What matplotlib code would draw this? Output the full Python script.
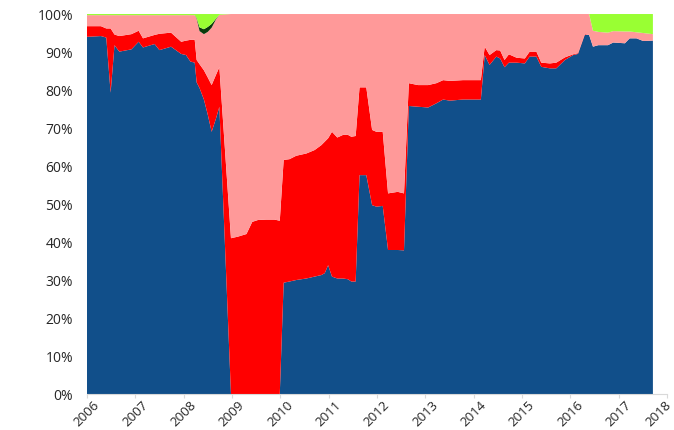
import numpy as np
import matplotlib
matplotlib.use("Agg")
import matplotlib.pyplot as plt
import matplotlib.transforms as mtrans
from matplotlib.ticker import PercentFormatter

# fractional years where the shares were read
dates = [2006.00, 2006.29, 2006.40, 2006.49, 2006.57, 2006.67, 2006.92, 2007.07,
         2007.16, 2007.40, 2007.50, 2007.74, 2007.95, 2008.05, 2008.14, 2008.23,
         2008.27, 2008.33, 2008.42, 2008.50, 2008.58, 2008.67, 2008.74, 2008.98,
         2009.12, 2009.30, 2009.36, 2009.42, 2009.54, 2009.71, 2009.88, 2009.99,
         2010.07, 2010.19, 2010.33, 2010.54, 2010.71, 2010.85, 2010.92, 2010.99,
         2011.07, 2011.18, 2011.30, 2011.40, 2011.47, 2011.56, 2011.64, 2011.78,
         2011.90, 2011.99, 2012.12, 2012.23, 2012.43, 2012.56, 2012.66, 2012.85,
         2013.06, 2013.23, 2013.37, 2013.51, 2013.78, 2014.15, 2014.23, 2014.33,
         2014.47, 2014.55, 2014.64, 2014.73, 2014.89, 2015.06, 2015.16, 2015.30,
         2015.40, 2015.58, 2015.71, 2015.89, 2016.06, 2016.16, 2016.30, 2016.39,
         2016.47, 2016.58, 2016.78, 2016.89, 2017.13, 2017.23, 2017.37, 2017.51,
         2017.71]

blue = [94.0, 94.2, 93.8, 79.3, 91.8, 90.1, 90.7, 92.7,
        91.2, 92.1, 90.5, 91.4, 89.5, 89.2, 87.5, 87.2,
        82.0, 80.5, 77.5, 73.5, 69.0, 72.5, 75.6, 0.0,
        0.0, 0.0, 0.0, 0.0, 0.0, 0.0, 0.0, 0.0,
        29.3, 29.6, 30.0, 30.4, 30.9, 31.3, 31.8, 33.9,
        30.9, 30.4, 30.4, 30.2, 29.6, 29.6, 57.6, 57.6,
        49.7, 49.3, 49.5, 37.9, 37.9, 37.8, 75.8, 75.6,
        75.4, 76.5, 77.5, 77.2, 77.5, 77.5, 89.2, 86.6,
        88.8, 88.3, 86.0, 87.2, 87.2, 87.0, 88.8, 88.8,
        86.1, 85.7, 85.7, 87.9, 89.2, 89.5, 94.5, 94.5,
        91.4, 91.8, 91.8, 92.5, 92.3, 93.6, 93.6, 92.9,
        93.0]

red = [2.8, 2.6, 2.4, 16.9, 2.8, 4.1, 4.0, 2.9,
       2.4, 2.4, 4.3, 3.7, 3.2, 3.8, 5.7, 6.0,
       5.9, 6.3, 7.7, 9.8, 12.3, 11.5, 10.4, 41.0,
       41.4, 42.1, 43.7, 45.3, 45.8, 45.9, 45.9, 45.6,
       32.3, 32.2, 32.7, 32.9, 33.3, 34.2, 34.6, 33.4,
       38.1, 37.1, 37.8, 38.0, 38.1, 38.3, 23.1, 23.1,
       19.8, 19.7, 19.5, 14.9, 15.3, 15.0, 6.0, 5.7,
       5.9, 5.3, 5.1, 5.2, 5.1, 5.1, 2.2, 2.6,
       1.7, 2.1, 1.9, 2.2, 1.3, 1.3, 1.3, 1.3,
       1.1, 1.3, 1.5, 0.7, 0.2, 0.2, 0.2, 0.0,
       0.0, 0.0, 0.0, 0.0, 0.0, 0.0, 0.0, 0.0,
       0.0]

pink = [2.9, 2.9, 3.5, 3.5, 5.1, 5.5, 5.0, 4.1,
        6.1, 5.2, 4.9, 4.6, 7.0, 6.7, 6.5, 6.5,
        10.9, 8.7, 9.5, 12.0, 15.1, 14.6, 13.8, 59.0,
        58.6, 57.9, 56.3, 54.7, 54.2, 54.1, 54.1, 54.4,
        38.4, 38.2, 37.3, 36.7, 35.8, 34.5, 33.6, 32.7,
        31.0, 32.5, 31.8, 31.8, 32.3, 32.1, 19.3, 19.3,
        30.5, 31.0, 31.0, 47.2, 46.8, 47.2, 18.2, 18.7,
        18.7, 18.2, 17.4, 17.6, 17.4, 17.4, 8.6, 10.8,
        9.5, 9.6, 12.1, 10.6, 11.5, 11.7, 9.9, 9.9,
        12.8, 13.0, 12.8, 11.4, 10.6, 10.3, 5.3, 5.5,
        4.2, 3.5, 3.3, 3.0, 3.1, 1.8, 1.6, 2.1,
        1.7]

dkgreen = [0.0] * 16 + [0.2, 1.0, 1.3, 1.3, 1.0, 0.2, 0.0] + [0.0] * 66

ltgreen = [0.3] * 16 + [1.0, 3.5, 4.0, 3.4, 2.6, 1.2, 0.2] + [0.0] * 57 + \
          [4.4, 4.7, 4.9, 4.5, 4.6, 4.6, 4.8, 5.0, 5.3]

years = list(range(2006, 2019))

colors = ["#114F8A", "#FF0000", "#FF9999", "#0B3A0B", "#99FF33"]

fig = plt.figure(figsize=(6.74, 4.30), dpi=100)
ax = fig.add_axes([0.129, 0.0837, 0.8605, 0.8837])

x = np.array(dates)
ax.stackplot(x, blue, red, pink, dkgreen, ltgreen, colors=colors, linewidth=0)

ax.set_xlim(2006, 2018)
ax.set_ylim(0, 100)
ax.yaxis.set_major_formatter(PercentFormatter(decimals=0))
ax.set_yticks(range(0, 101, 10))
ax.set_xticks(years)
ax.set_xticklabels([str(y) for y in years], rotation=45, ha="center")

for s in ["top", "right", "left"]:
    ax.spines[s].set_visible(False)
ax.spines["bottom"].set_color("#D9D9D9")
ax.tick_params(axis="x", colors="#D9D9D9", length=3, labelcolor="#262626",
               labelsize=9.5, pad=0.5)
ax.tick_params(axis="y", length=0, labelcolor="#262626", labelsize=10, pad=10)
for lab in ax.get_xticklabels() + ax.get_yticklabels():
    lab.set_family("Open Sans")

# keep the last year label inside the picture
last = ax.get_xticklabels()[-1]
last.set_transform(last.get_transform() +
                   mtrans.ScaledTranslation(-6 / 72, 0, fig.dpi_scale_trans))

fig.savefig("out.png", dpi=100)
